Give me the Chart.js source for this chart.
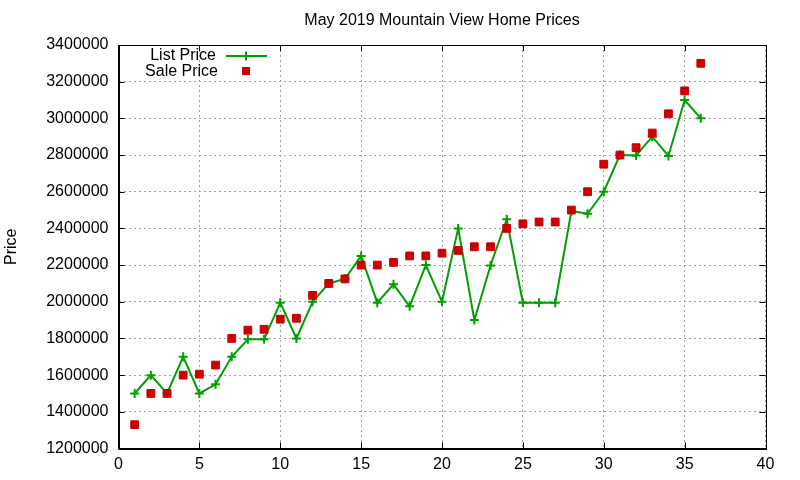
<!DOCTYPE html>
<html>
<head>
<meta charset="utf-8">
<script src="https://cdn.jsdelivr.net/npm/chart.js@4"></script>
<style>
  html, body { margin: 0; padding: 0; background: #fff; }
  #wrap { width: 800px; height: 480px; }
</style>
</head>
<body>
<div id="wrap"><canvas id="c"></canvas></div>
<script>
// listing number (x) and prices
const listings = [1, 2, 3, 4, 5, 6, 7, 8, 9, 10, 11, 12, 13, 14, 15, 16, 17, 18,
  19, 20, 21, 22, 23, 24, 25, 26, 27, 28, 29, 30, 31, 32, 33, 34, 35, 36];
const listPrice = [1500000, 1600000, 1500000, 1700000, 1500000, 1550000, 1700000, 1795000, 1795000,
  1995000, 1800000, 2000000, 2100000, 2125000, 2250000, 1995000, 2095000, 1975000,
  2200000, 2000000, 2400000, 1900000, 2198000, 2450000, 1995000, 1995000, 1995000,
  2495000, 2480000, 2600000, 2800000, 2798000, 2900000, 2795000, 3100000, 3000000];
const salePrice = [1330000, 1500000, 1500000, 1600000, 1605000, 1655000, 1800000, 1845000, 1850000,
  1905000, 1910000, 2035000, 2100000, 2125000, 2200000, 2200000, 2215000, 2250000,
  2250000, 2265000, 2280000, 2300000, 2300000, 2400000, 2425000, 2435000, 2435000,
  2500000, 2600000, 2750000, 2800000, 2840000, 2920000, 3025000, 3150000, 3300000];
const xTicks = { min: 0, max: 40, step: 5 };
const yTicks = { min: 1200000, max: 3400000, step: 200000 };

const GREEN = '#00a000';
const RED = '#cc0000';
const FONT = '"Liberation Sans", Arial, sans-serif';

// gnuplot style: ticks pointing inward on all four sides + key in top-left
const gnuplotExtras = {
  id: 'gnuplotExtras',
  afterDraw(chart) {
    const { ctx, chartArea: a, scales } = chart;
    ctx.save();
    ctx.strokeStyle = '#000';
    ctx.lineWidth = 1;
    ctx.beginPath();
    const t = 6;
    scales.x.ticks.forEach(tk => {
      const px = Math.round(scales.x.getPixelForValue(tk.value)) + 0.5;
      ctx.moveTo(px, a.bottom); ctx.lineTo(px, a.bottom - t);
      ctx.moveTo(px, a.top); ctx.lineTo(px, a.top + t);
    });
    scales.y.ticks.forEach(tk => {
      const py = Math.round(scales.y.getPixelForValue(tk.value)) + 0.5;
      ctx.moveTo(a.left, py); ctx.lineTo(a.left + t, py);
      ctx.moveTo(a.right, py); ctx.lineTo(a.right - t, py);
    });
    ctx.stroke();

    // key
    ctx.font = '16px ' + FONT;
    ctx.fillStyle = '#000';
    ctx.textAlign = 'right';
    ctx.textBaseline = 'middle';
    ctx.fillText('List Price', 216, 56);
    ctx.fillText('Sale Price', 218, 72);
    ctx.strokeStyle = GREEN;
    ctx.lineWidth = 2;
    ctx.beginPath();
    ctx.moveTo(226, 56); ctx.lineTo(267, 56);
    ctx.moveTo(246, 51.5); ctx.lineTo(246, 60.5);
    ctx.stroke();
    ctx.fillStyle = RED;
    ctx.fillRect(242, 67, 8, 8);
    ctx.restore();
  }
};

new Chart(document.getElementById('c'), {
  type: 'scatter',
  data: {
    datasets: [
      {
        label: 'List Price',
        data: listings.map((x, i) => ({ x, y: listPrice[i] })),
        showLine: true,
        borderColor: GREEN,
        backgroundColor: GREEN,
        borderWidth: 2,
        pointStyle: 'cross',
        pointRadius: 4.5,
        pointBorderWidth: 2,
        order: 2
      },
      {
        label: 'Sale Price',
        data: listings.map((x, i) => ({ x, y: salePrice[i] })),
        showLine: false,
        borderColor: RED,
        backgroundColor: RED,
        pointStyle: 'rect',
        pointRadius: 5.5,
        pointBorderWidth: 1,
        order: 1
      }
    ]
  },
  options: {
    responsive: true,
    maintainAspectRatio: false,
    animation: false,
    layout: { padding: { left: 0, right: 34.5, top: 0, bottom: 0 } },
    plugins: {
      legend: { display: false },
      tooltip: { enabled: false },
      title: {
        display: true,
        fullSize: false,
        text: 'May 2019 Mountain View Home Prices',
        color: '#000',
        font: { family: FONT, size: 16, weight: 'normal', lineHeight: 1.2 },
        padding: { top: 11, bottom: 14.8 }
      }
    },
    scales: {
      x: {
        type: 'linear',
        min: xTicks.min,
        max: xTicks.max,
        ticks: { stepSize: xTicks.step, color: '#000', padding: 6, font: { family: FONT, size: 16 } },
        grid: { color: '#a0a0a0', drawTicks: false, lineWidth: 1 },
        border: { color: '#000', width: 1, dash: [2, 3] },
        afterFit(s) { s.height = 31.5; }
      },
      y: {
        min: yTicks.min,
        max: yTicks.max,
        ticks: {
          stepSize: yTicks.step,
          color: '#000',
          padding: 10,
          font: { family: FONT, size: 16 },
          callback: v => String(v)
        },
        grid: { color: '#a0a0a0', drawTicks: false, lineWidth: 1 },
        border: { color: '#000', width: 1, dash: [2, 3] },
        title: {
          display: true,
          text: 'Price',
          color: '#000',
          font: { family: FONT, size: 16 },
          padding: { top: 2, bottom: 0 }
        },
        afterFit(s) { s.width = 118.5; }
      }
    }
  },
  plugins: [{
    id: 'frame',
    afterDatasetsDraw(chart) {
      const { ctx, chartArea: a } = chart;
      ctx.save();
      ctx.strokeStyle = '#000';
      ctx.lineWidth = 1;
      ctx.strokeRect(Math.round(a.left) + 0.5, Math.round(a.top) + 0.5,
        Math.round(a.right - a.left), Math.round(a.bottom - a.top));
      ctx.restore();
    }
  }, gnuplotExtras]
});
</script>
</body>
</html>
